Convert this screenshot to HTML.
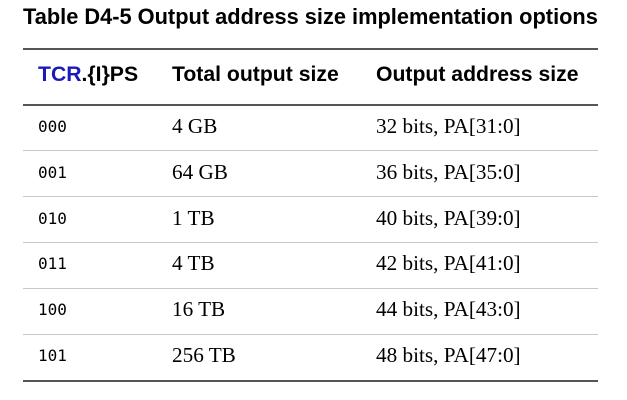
<!DOCTYPE html>
<html><head><style>
body{margin:0;width:627px;height:400px;background:#fff;position:relative;overflow:hidden}
.t{position:absolute;white-space:nowrap;line-height:1.15}
.title{left:23px;top:4px;font:bold 21.8px "Liberation Sans",sans-serif;color:#000}
.h{font:bold 21.2px "Liberation Sans",sans-serif;color:#000;top:63px}
.m{font:16px "DejaVu Sans Mono","Liberation Mono",monospace;color:#000;left:38px}
.s{font:21.2px "Liberation Serif",serif;color:#000}
.line{position:absolute;left:23px;width:575px}
</style></head><body>
<div class="t title">Table D4-5 Output address size implementation options</div>
<div class="line" style="top:48px;height:2px;background:#555"></div>
<div class="t h" style="left:38px"><span style="color:#1a1ab8">TCR</span>.{I}PS</div>
<div class="t h" style="left:172px">Total output size</div>
<div class="t h" style="left:376px">Output address size</div>
<div class="line" style="top:104px;height:2px;background:#555"></div>

<div class="t m" style="top:117px">000</div><div class="t s" style="left:172px;top:114px">4 GB</div><div class="t s" style="left:376px;top:114px">32 bits, PA[31:0]</div>
<div class="line" style="top:150px;height:1px;background:#c8c8c8"></div>
<div class="t m" style="top:163px">001</div><div class="t s" style="left:172px;top:160px">64 GB</div><div class="t s" style="left:376px;top:160px">36 bits, PA[35:0]</div>
<div class="line" style="top:196px;height:1px;background:#c8c8c8"></div>
<div class="t m" style="top:209px">010</div><div class="t s" style="left:172px;top:206px">1 TB</div><div class="t s" style="left:376px;top:206px">40 bits, PA[39:0]</div>
<div class="line" style="top:242px;height:1px;background:#c8c8c8"></div>
<div class="t m" style="top:254px">011</div><div class="t s" style="left:172px;top:251px">4 TB</div><div class="t s" style="left:376px;top:251px">42 bits, PA[41:0]</div>
<div class="line" style="top:288px;height:1px;background:#c8c8c8"></div>
<div class="t m" style="top:300px">100</div><div class="t s" style="left:172px;top:297px">16 TB</div><div class="t s" style="left:376px;top:297px">44 bits, PA[43:0]</div>
<div class="line" style="top:334px;height:1px;background:#c8c8c8"></div>
<div class="t m" style="top:346px">101</div><div class="t s" style="left:172px;top:343px">256 TB</div><div class="t s" style="left:376px;top:343px">48 bits, PA[47:0]</div>
<div class="line" style="top:380px;height:2px;background:#555"></div>
</body></html>
